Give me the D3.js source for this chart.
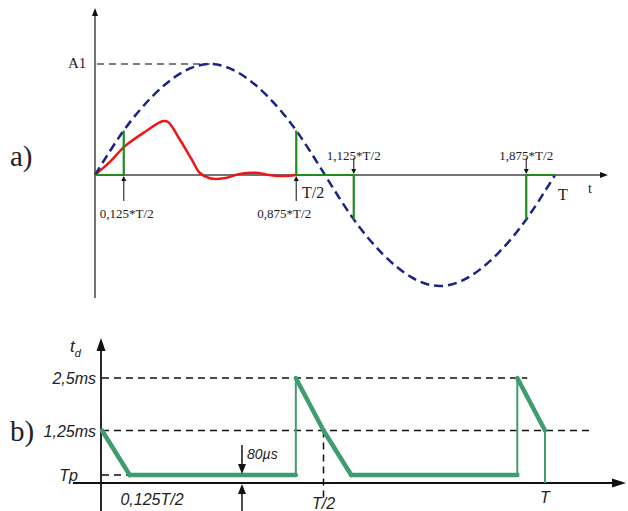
<!DOCTYPE html>
<html>
<head>
<meta charset="utf-8">
<script src="https://cdn.jsdelivr.net/npm/d3@7"></script>
<style>
  body { margin: 0; background: #fff; }
  svg { display: block; }
  .serif { font-family: "Liberation Serif", "DejaVu Serif", serif; fill: #222; }
  .sans { font-family: "Liberation Sans", Arial, sans-serif; font-style: italic; fill: #222; }
</style>
</head>
<body>
<svg id="chart" width="628" height="511"></svg>
<script>
// ---- a) reference sine and current (t in units of T, amplitude in units of A1)
const sineT = [0, 0.0625, 0.125, 0.1875, 0.25, 0.3125, 0.375, 0.4375, 0.5,
  0.5625, 0.625, 0.6875, 0.75, 0.8125, 0.875, 0.9375, 1];
const sineA = [0, 0.40, 0.71, 0.92, 1, 0.92, 0.71, 0.40, 0,
  -0.40, -0.71, -0.92, -1, -0.92, -0.71, -0.40, 0];

const redT = [0, 0.033, 0.065, 0.109, 0.148, 0.159, 0.185, 0.211, 0.228,
  0.25, 0.28, 0.315, 0.348, 0.38, 0.41, 0.437];
const redA = [0, 0.12, 0.26, 0.39, 0.486, 0.477, 0.315, 0.135, 0.018,
  -0.03, -0.03, 0.01, 0.02, 0.0, -0.01, 0];

// green blanking segments
const greenSegs = [
  { t: [0, 0.0625, 0.0625], a: [0, 0, 0.40] },
  { t: [0.4375, 0.4375, 0.5625, 0.5625], a: [0.40, 0, 0, -0.40] },
  { t: [0.9375, 0.9375, 1], a: [-0.40, 0, 0] }
];

const markerT = [0.0625, 0.4375, 0.5625, 0.9375];
const markerLabels = ["0,125*T/2", "0,875*T/2", "1,125*T/2", "1,875*T/2"];
const markerBelow = [true, true, false, false];

// ---- b) delay time td (ms)
const TP = 0.19;
const tdT = [0, 0.0625, 0.4375, 0.4375, 0.5, 0.5625, 0.9375, 0.9375, 1, 1];
const tdV = [1.25, TP, TP, 2.5, 1.25, TP, TP, 2.5, 1.25, 0];
const levelV = [2.5, 1.25, TP];
const levelLabels = ["2,5ms", "1,25ms", "Tp"];
const levelEnd = [0.96, 1.1, 0.0625];

const svg = d3.select("#chart");

function arrowHead(x, y, dir, w, h) {
  // tip at (x,y)
  let pts;
  if (dir === "up") pts = [[x, y], [x - w / 2, y + h], [x + w / 2, y + h]];
  else if (dir === "down") pts = [[x, y], [x - w / 2, y - h], [x + w / 2, y - h]];
  else pts = [[x, y], [x - h, y - w / 2], [x - h, y + w / 2]];
  svg.append("path").attr("d", "M" + pts.join("L") + "Z").attr("fill", "#111");
}

// ================= a) =================
const xA = d3.scaleLinear().domain([0, 1]).range([95, 555]);
const yA = d3.scaleLinear().domain([-1, 1]).range([286, 64]);

// axes
svg.append("line").attr("x1", xA(0)).attr("x2", xA(0)).attr("y1", 298).attr("y2", 12)
  .attr("stroke", "#444").attr("stroke-width", 1.5);
arrowHead(xA(0), 8, "up", 6, 8);
svg.append("line").attr("x1", xA(0)).attr("x2", 602).attr("y1", yA(0)).attr("y2", yA(0))
  .attr("stroke", "#444").attr("stroke-width", 1.5);
arrowHead(608, yA(0), "right", 6, 8);

// A1 level
svg.append("line").attr("x1", xA(0) + 2).attr("x2", xA(0.25)).attr("y1", yA(1)).attr("y2", yA(1))
  .attr("stroke", "#555").attr("stroke-width", 1.5).attr("stroke-dasharray", "7,5");

const lineA = d3.line().x(d => xA(d[0])).y(d => yA(d[1]));

// red current
svg.append("path")
  .datum(redT.map((t, i) => [t, redA[i]]))
  .attr("d", lineA.curve(d3.curveCatmullRom))
  .attr("fill", "none").attr("stroke", "#f01616").attr("stroke-width", 2.5);

// blue dashed sine
svg.append("path")
  .datum(sineT.map((t, i) => [t, sineA[i]]))
  .attr("d", lineA.curve(d3.curveNatural))
  .attr("fill", "none").attr("stroke", "#1b2387").attr("stroke-width", 2.5)
  .attr("stroke-dasharray", "9,5");

// green segments
greenSegs.forEach(s => {
  svg.append("path")
    .datum(s.t.map((t, i) => [t, s.a[i]]))
    .attr("d", lineA.curve(d3.curveLinear))
    .attr("fill", "none").attr("stroke", "#1e8c1e").attr("stroke-width", 2.2);
});

// marker arrows and labels
markerT.forEach((t, i) => {
  const x = xA(t), y0 = yA(0);
  if (markerBelow[i]) {
    svg.append("line").attr("x1", x).attr("x2", x).attr("y1", y0 + 5).attr("y2", y0 + 26)
      .attr("stroke", "#333").attr("stroke-width", 1.2);
    arrowHead(x, y0 + 1, "up", 5, 5);
    svg.append("text").attr("class", "serif").attr("x", x + (i === 1 ? -12 : 3)).attr("y", 218)
      .attr("text-anchor", "middle").attr("font-size", 13).text(markerLabels[i]);
  } else {
    svg.append("line").attr("x1", x).attr("x2", x).attr("y1", y0 - 17).attr("y2", y0 - 4)
      .attr("stroke", "#333").attr("stroke-width", 1.2);
    arrowHead(x, y0 - 1, "down", 5, 5);
    svg.append("text").attr("class", "serif").attr("x", x).attr("y", 160)
      .attr("text-anchor", "middle").attr("font-size", 13).text(markerLabels[i]);
  }
});

svg.append("text").attr("class", "serif").attr("x", 302).attr("y", 198)
  .attr("font-size", 16).text("T/2");
svg.append("text").attr("class", "serif").attr("x", 558).attr("y", 200)
  .attr("font-size", 16).text("T");
svg.append("text").attr("class", "serif").attr("x", 588).attr("y", 193)
  .attr("font-size", 14).text("t");
svg.append("text").attr("class", "serif").attr("x", 68).attr("y", 68)
  .attr("font-size", 15).text("A1");
svg.append("text").attr("class", "serif").attr("x", 10).attr("y", 166)
  .attr("font-size", 29).attr("fill", "#000").text("a)");

// ================= b) =================
const xB = d3.scaleLinear().domain([0, 1]).range([102, 545]);
const yB = d3.scaleLinear().domain([0, 2.5]).range([483, 378]);

// dashed level lines
levelV.forEach((v, i) => {
  svg.append("line").attr("x1", xB(0)).attr("x2", xB(levelEnd[i]))
    .attr("y1", yB(v)).attr("y2", yB(v))
    .attr("stroke", "#111").attr("stroke-width", 1.5).attr("stroke-dasharray", "7,5");
  svg.append("text").attr("class", "sans")
    .attr("x", i === 2 ? 78 : 96).attr("y", yB(v) + 6)
    .attr("text-anchor", "end").attr("font-size", 16).text(levelLabels[i]);
});

// T/2 vertical dashed
svg.append("line").attr("x1", xB(0.5)).attr("x2", xB(0.5))
  .attr("y1", yB(1.25)).attr("y2", 500)
  .attr("stroke", "#111").attr("stroke-width", 1.5).attr("stroke-dasharray", "7,5");

// axes
svg.append("line").attr("x1", xB(0) - 1).attr("x2", xB(0) - 1).attr("y1", 511).attr("y2", 348)
  .attr("stroke", "#111").attr("stroke-width", 1.8);
arrowHead(xB(0) - 1, 338, "up", 9, 13);
svg.append("line").attr("x1", 73).attr("x2", 612).attr("y1", yB(0)).attr("y2", yB(0))
  .attr("stroke", "#111").attr("stroke-width", 1.8);
arrowHead(626, yB(0), "right", 9, 14);

// td line
for (let i = 0; i < tdT.length - 1; i++) {
  const vertical = tdT[i] === tdT[i + 1];
  svg.append("line")
    .attr("x1", xB(tdT[i])).attr("y1", yB(tdV[i]))
    .attr("x2", xB(tdT[i + 1])).attr("y2", yB(tdV[i + 1]))
    .attr("stroke", "#3f9c6e").attr("stroke-width", vertical ? 2 : 4.5)
    .attr("stroke-linecap", vertical ? "butt" : "round");
}

// 80us arrows
const xArr = xB(0.316);
svg.append("line").attr("x1", xArr).attr("x2", xArr).attr("y1", 445).attr("y2", yB(TP) - 8)
  .attr("stroke", "#111").attr("stroke-width", 1.5);
arrowHead(xArr, yB(TP) - 1, "down", 8, 10);
svg.append("line").attr("x1", xArr).attr("x2", xArr).attr("y1", 511).attr("y2", yB(0) + 8)
  .attr("stroke", "#111").attr("stroke-width", 1.5);
arrowHead(xArr, yB(0) + 1, "up", 8, 10);
svg.append("text").attr("class", "sans").attr("x", 247).attr("y", 459)
  .attr("font-size", 14).text("80µs");

// x labels
svg.append("text").attr("class", "sans").attr("x", 152).attr("y", 505)
  .attr("text-anchor", "middle").attr("font-size", 16).text("0,125T/2");
svg.append("text").attr("class", "sans").attr("x", xB(0.5)).attr("y", 509)
  .attr("text-anchor", "middle").attr("font-size", 16).text("T/2");
svg.append("text").attr("class", "sans").attr("x", xB(1)).attr("y", 503)
  .attr("text-anchor", "middle").attr("font-size", 16).text("T");

// t_d label
const td = svg.append("text").attr("class", "sans").attr("x", 70).attr("y", 352).attr("font-size", 17);
td.append("tspan").text("t");
td.append("tspan").attr("dy", 5).attr("font-size", 11).text("d");

svg.append("text").attr("class", "serif").attr("x", 10).attr("y", 441)
  .attr("font-size", 29).attr("fill", "#000").text("b)");
</script>
</body>
</html>
